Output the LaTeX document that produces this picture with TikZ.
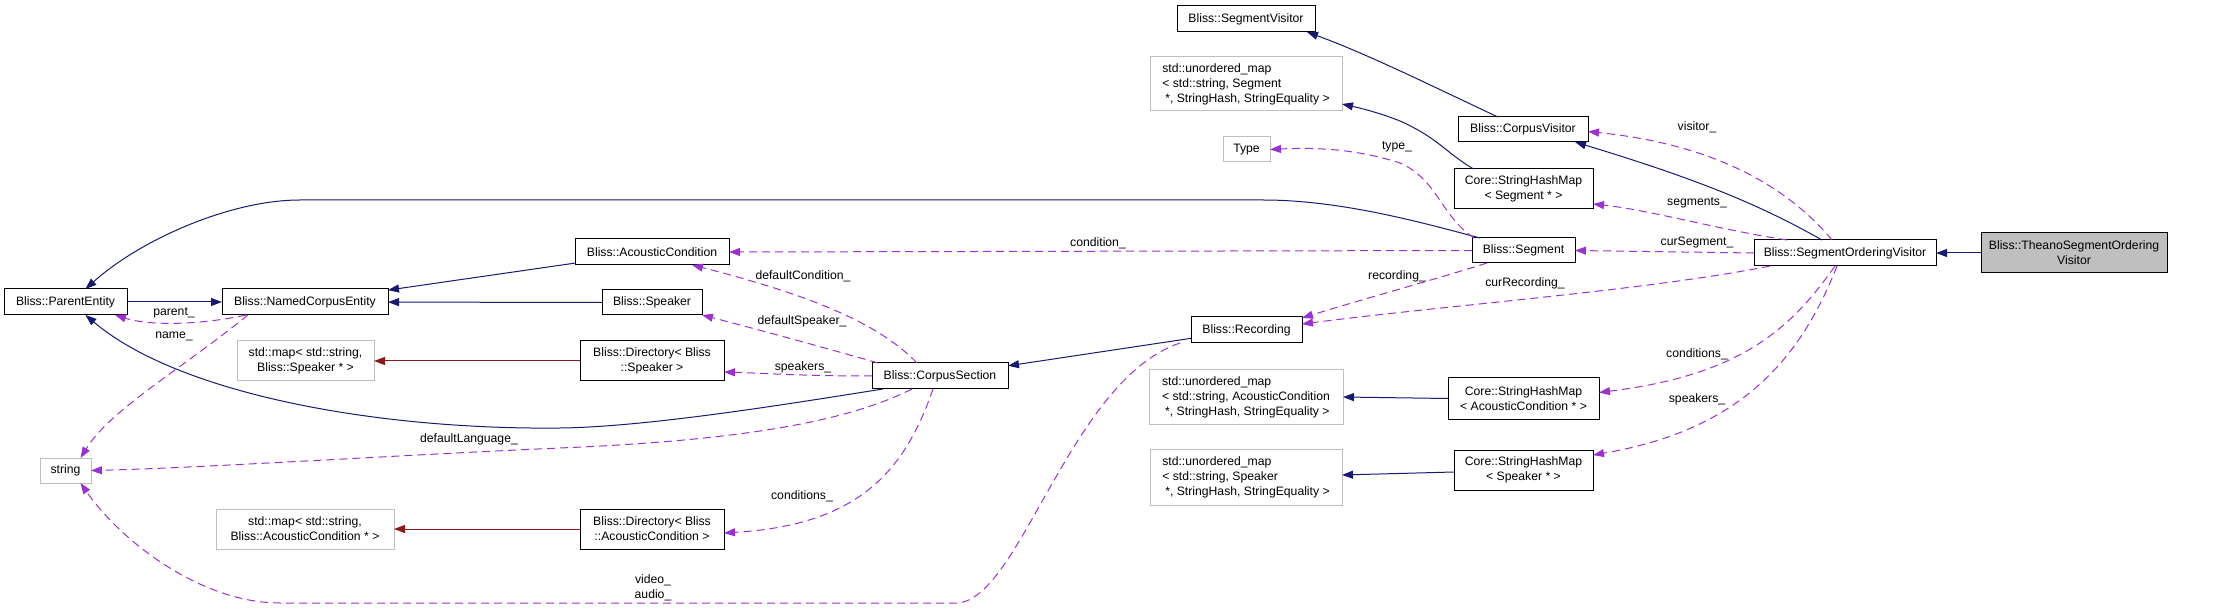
\documentclass[tikz,border=0pt]{standalone}
\usepackage{fontspec}
\setmainfont{Liberation Sans}
\usetikzlibrary{arrows.meta,calc}
\definecolor{inhc}{HTML}{191970}
\definecolor{usec}{HTML}{9A32CD}
\definecolor{tplc}{HTML}{8B1A1A}
\definecolor{grayb}{HTML}{BFBFBF}
\begin{document}
\begin{tikzpicture}[x=1pt,y=-1pt,
  every node/.style={font=\fontsize{12.2}{15}\selectfont, inner sep=0pt, outer sep=0pt},
  cls/.style={draw=black, line width=1pt, fill=white, align=center},
  ext/.style={draw=grayb, line width=1pt, fill=white, align=center},
  extl/.style={draw=grayb, line width=1pt, fill=white, align=left},
  lab/.style={align=center},
  inh/.style={color=inhc, line width=1pt, -{Triangle[length=11pt,width=8pt]}},
  tmpl/.style={color=tplc, line width=1pt, -{Triangle[length=11pt,width=8pt]}},
  usage/.style={color=usec, line width=1pt, dash pattern=on 8pt off 5pt, -{Triangle[length=11pt,width=8pt]}}
]
\useasboundingbox (0,0) rectangle (2219,609);

% nodes
\node[cls, minimum width=123pt, minimum height=26pt] (pe) at (65.5,302) {Bliss::ParentEntity};
\node[cls, minimum width=166pt, minimum height=26pt] (nce) at (305,302) {Bliss::NamedCorpusEntity};
\node[ext, minimum width=137pt, minimum height=40pt] (mapSpk) at (305.5,361) {std::map< std::string,\\ Bliss::Speaker * >};
\node[ext, minimum width=51pt, minimum height=25pt] (str) at (65.5,470.5) {string};
\node[ext, minimum width=178pt, minimum height=40pt] (mapAC) at (305,529) {std::map< std::string,\\ Bliss::AcousticCondition * >};
\node[cls, minimum width=154pt, minimum height=26pt] (ac) at (652,252) {Bliss::AcousticCondition};
\node[cls, minimum width=100pt, minimum height=25pt] (spk) at (652,302.5) {Bliss::Speaker};
\node[cls, minimum width=144pt, minimum height=40pt] (dirSpk) at (652,361) {Bliss::Directory< Bliss\\::Speaker >};
\node[cls, minimum width=136pt, minimum height=26pt] (cs) at (940,376) {Bliss::CorpusSection};
\node[cls, minimum width=144pt, minimum height=40pt] (dirAC) at (652,529) {Bliss::Directory< Bliss\\::AcousticCondition >};
\node[cls, minimum width=138pt, minimum height=26pt] (segVis) at (1246,19) {Bliss::SegmentVisitor};
\node[extl, minimum width=192pt, minimum height=54pt] (umSeg) at (1246,84) {std::unordered\_map\\< std::string, Segment\\\hspace*{3pt}*, StringHash, StringEquality >};
\node[ext, minimum width=47pt, minimum height=25pt] (type) at (1246.5,149.5) {Type};
\node[cls, minimum width=130pt, minimum height=25pt] (corpVis) at (1523,129.5) {Bliss::CorpusVisitor};
\node[cls, minimum width=139pt, minimum height=40pt] (shmSeg) at (1523.5,189) {Core::StringHashMap\\< Segment * >};
\node[cls, minimum width=103pt, minimum height=25pt] (seg) at (1523.5,250.5) {Bliss::Segment};
\node[cls, minimum width=111pt, minimum height=26pt] (rec) at (1246.5,330) {Bliss::Recording};
\node[extl, minimum width=194pt, minimum height=54pt] (umAC) at (1246,397) {std::unordered\_map\\< std::string, AcousticCondition\\\hspace*{3pt}*, StringHash, StringEquality >};
\node[cls, minimum width=151pt, minimum height=41pt] (shmAC) at (1523.5,398.5) {Core::StringHashMap\\< AcousticCondition * >};
\node[extl, minimum width=192pt, minimum height=56pt] (umSpk) at (1246,477) {std::unordered\_map\\< std::string, Speaker\\\hspace*{3pt}*, StringHash, StringEquality >};
\node[cls, minimum width=139pt, minimum height=40pt] (shmSpk) at (1523.5,470) {Core::StringHashMap\\< Speaker * >};
\node[cls, minimum width=182pt, minimum height=26pt] (sov) at (1845,253) {Bliss::SegmentOrderingVisitor};
\node[cls, fill=grayb, minimum width=186pt, minimum height=40pt] (theano) at (2074,253) {Bliss::TheanoSegmentOrdering\\Visitor};

% inheritance
\draw[inh] (pe.east) -- (nce.west);
\draw[inh] (ac) -- (nce);
\draw[inh] (spk) -- (nce);
\draw[inh] ($(seg.north west)+(8,0)$) .. controls (1420,222) and (1340,200) .. (1263,200) -- (300,200) .. controls (230,200) and (140,240) .. ($(pe.north)+(20,0)$);
\draw[inh] ($(cs.south west)+(11,0)$) .. controls (800,402) and (650,427) .. (560,428) .. controls (380,430) and (180,395) .. ($(pe.south)+(20,0)$);
\draw[inh] (rec) -- (cs);
\draw[inh] ($(corpVis.north)+(-25,0)$) .. controls (1440,90) and (1370,55) .. ($(segVis.south east)+(-8,0)$);
\draw[inh] ($(shmSeg.north)+(-50,0)$) .. controls (1445,152) and (1438,138) .. (1400,121) .. controls (1380,113) and (1360,108) .. ($(umSeg.east)+(0,20)$);
\draw[inh] ($(sov.north)+(-23,0)$) .. controls (1760,205) and (1700,180) .. ($(corpVis.south east)+(-13,0)$);
\draw[inh] (theano) -- (sov);
\draw[inh] (shmAC.west) -- (umAC.east);
\draw[inh] ($(shmSpk.west)+(0,2)$) -- ($(umSpk.east)+(0,-2)$);
\draw[tmpl] (dirSpk) -- (mapSpk);
\draw[tmpl] (dirAC) -- (mapAC);

% usage
\draw[usage] ($(nce.south west)+(24,0)$) .. controls (200,325) and (150,326) .. ($(pe.south east)+(-12,0)$);
\draw[usage] ($(nce.south west)+(26,0)$) .. controls (180,370) and (110,410) .. ($(str.north)+(15,0)$);
\draw[usage] ($(cs.south west)+(40,0)$) .. controls (850,420) and (750,440) .. (560,448) .. controls (400,455) and (200,468) .. (str.east);
\draw[usage] ($(cs.north)+(-23,0)$) .. controls (885,330) and (830,300) .. ($(ac.south)+(40,0)$);
\draw[usage] ($(cs.north west)+(6,0)$) .. controls (840,352) and (760,330) .. (spk.south east);
\draw[usage] (cs.west) .. controls (800,376) and (760,373) .. ($(dirSpk.east)+(0,11)$);
\draw[usage] ($(cs.south)+(-7,0)$) .. controls (905,470) and (860,525) .. ($(dirAC.east)+(0,4)$);
\draw[usage] (seg.west) -- (ac.east);
\draw[usage] ($(seg.south west)+(15,0)$) .. controls (1440,278) and (1360,300) .. ($(rec.north east)+(0,1)$);
\draw[usage] ($(seg.north west)+(2,0)$) .. controls (1440,215) and (1438,180) .. (1400,163) .. controls (1360,150) and (1320,147) .. (type.east);
\draw[usage] (sov.west) -- (seg.east);
\draw[usage] ($(sov.south west)+(16,0)$) .. controls (1650,290) and (1450,305) .. ($(rec.east)+(0,-6)$);
\draw[usage] ($(sov.north)+(-13,0)$) .. controls (1790,190) and (1720,145) .. ($(corpVis.east)+(0,2)$);
\draw[usage] ($(sov.north west)+(33,0)$) .. controls (1720,230) and (1650,210) .. ($(shmSeg.east)+(0,15)$);
\draw[usage] ($(sov.south)+(-10,0)$) .. controls (1790,330) and (1740,375) .. ($(shmAC.east)+(0,-6)$);
\draw[usage] ($(sov.south)+(-8,0)$) .. controls (1800,360) and (1740,430) .. ($(shmSpk.north east)+(0,5)$);
\draw[usage] ($(rec.south west)+(-11,0)$) .. controls (1070,380) and (1020,600) .. (957,603) -- (280,603) .. controls (200,603) and (120,540) .. ($(str.south)+(15,0)$);

% labels
\node[lab] (lparent) at (174,313) {parent\_};
\node[lab] (lname) at (174,336) {name\_};
\node[lab] (llang) at (469,439) {defaultLanguage\_};
\node[lab] (ldcond) at (803,276) {defaultCondition\_};
\node[lab] (ldspk) at (802,321) {defaultSpeaker\_};
\node[lab] (lspk1) at (803,367) {speakers\_};
\node[lab] (lcond1) at (802,496) {conditions\_};
\node[lab] (lvid) at (653,587.5) {video\_\\audio\_};
\node[lab] (lcond) at (1098,243) {condition\_};
\node[lab] (lrec) at (1397,276) {recording\_};
\node[lab] (ltype) at (1397,147) {type\_};
\node[lab] (lcurrec) at (1525,283) {curRecording\_};
\node[lab] (lvis) at (1697,127) {visitor\_};
\node[lab] (lsegs) at (1697,203) {segments\_};
\node[lab] (lcurseg) at (1697,243) {curSegment\_};
\node[lab] (lcond2) at (1697,354) {conditions\_};
\node[lab] (lspk2) at (1697,399) {speakers\_};
\end{tikzpicture}
\end{document}
